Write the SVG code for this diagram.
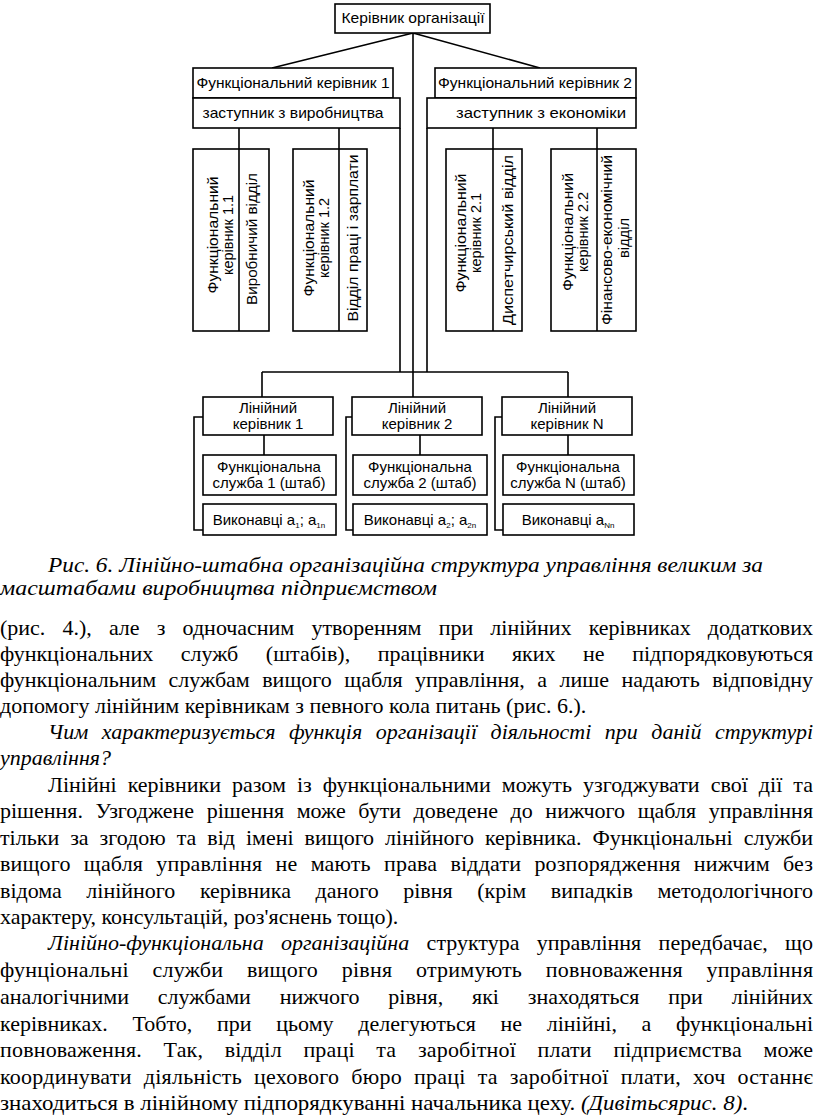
<svg xmlns="http://www.w3.org/2000/svg" width="816" height="1119" viewBox="0 0 816 1119">
<style>
.b{fill:#fff;stroke:#000;stroke-width:1.6}
.c{fill:none;stroke:#000;stroke-width:1.6}
.d{font-family:"Liberation Sans",Arial,sans-serif;font-size:15px;fill:#000;text-anchor:middle}
.s{font-size:8px}
.p{font-family:"Liberation Serif","Times New Roman",serif;font-size:22px;fill:#000}
.i{font-style:italic}
</style>
<rect width="816" height="1119" fill="#fff"/>
<g id="connectors">
<path class="c" d="M413,33 L272,68 M413,33 L540,68 M413,33 V397"/>
<path class="c" d="M400,128 V372 M427,128 V372 M262,372 H568 M262,372 V397 M568,372 V397"/>
<path class="c" d="M239,128 V149 M339,128 V149 M493,128 V149 M597,128 V149"/>
<path class="c" d="M264,435 V455 M420,435 V455 M568,435 V455"/>
<path class="c" d="M203,417 H194 V530 H203 M352,417 H346 V530 H353 M502,417 H495 V530 H503"/>
</g>
<g id="n-top"><rect class="b" x="335" y="4" width="155" height="29"/><text class="d" x="413" y="23" textLength="143" lengthAdjust="spacingAndGlyphs">Керівник організації</text></g>
<g id="n-fk1"><rect class="b" x="193" y="68" width="200" height="30"/><text class="d" x="293" y="88" textLength="193" lengthAdjust="spacingAndGlyphs">Функціональний керівник 1</text></g>
<g id="n-zv"><rect class="b" x="193" y="98" width="207" height="30"/><text class="d" x="293" y="118" textLength="181" lengthAdjust="spacingAndGlyphs">заступник з виробництва</text></g>
<g id="n-fk2"><rect class="b" x="435" y="68" width="201" height="30"/><text class="d" x="535" y="88" textLength="194" lengthAdjust="spacingAndGlyphs">Функціональний керівник 2</text></g>
<g id="n-ze"><rect class="b" x="427" y="98" width="209" height="30"/><text class="d" x="541" y="118" textLength="170" lengthAdjust="spacingAndGlyphs">заступник з економіки</text></g>
<g id="n-11">
<rect class="b" x="193" y="149" width="76" height="182"/><path class="c" d="M239,149 V331"/>
<text class="d" transform="translate(218,235) rotate(-90)" textLength="117" lengthAdjust="spacingAndGlyphs">Функціональний</text>
<text class="d" transform="translate(233,235) rotate(-90)" textLength="80" lengthAdjust="spacingAndGlyphs">керівник 1.1</text>
<text class="d" transform="translate(257,239) rotate(-90)" textLength="132" lengthAdjust="spacingAndGlyphs">Виробничий відділ</text>
</g>
<g id="n-12">
<rect class="b" x="293" y="149" width="74" height="182"/><path class="c" d="M339,149 V331"/>
<text class="d" transform="translate(314,238) rotate(-90)" textLength="117" lengthAdjust="spacingAndGlyphs">Функціональний</text>
<text class="d" transform="translate(329,238) rotate(-90)" textLength="80" lengthAdjust="spacingAndGlyphs">керівник 1.2</text>
<text class="d" transform="translate(358,238) rotate(-90)" textLength="167" lengthAdjust="spacingAndGlyphs">Відділ праці і зарплати</text>
</g>
<g id="n-21">
<rect class="b" x="446" y="149" width="76" height="182"/><path class="c" d="M493,149 V331"/>
<text class="d" transform="translate(466,233) rotate(-90)" textLength="119" lengthAdjust="spacingAndGlyphs">Функціональний</text>
<text class="d" transform="translate(481,233) rotate(-90)" textLength="80" lengthAdjust="spacingAndGlyphs">керівник 2.1</text>
<text class="d" transform="translate(513,240) rotate(-90)" textLength="170" lengthAdjust="spacingAndGlyphs">Диспетчирський відділ</text>
</g>
<g id="n-22">
<rect class="b" x="551" y="149" width="85" height="182"/><path class="c" d="M597,149 V331"/>
<text class="d" transform="translate(573,232) rotate(-90)" textLength="118" lengthAdjust="spacingAndGlyphs">Функціональний</text>
<text class="d" transform="translate(588,232) rotate(-90)" textLength="80" lengthAdjust="spacingAndGlyphs">керівник 2.2</text>
<text class="d" transform="translate(612,240) rotate(-90)" textLength="170" lengthAdjust="spacingAndGlyphs">Фінансово-економічний</text>
<text class="d" transform="translate(629,238) rotate(-90)" textLength="40" lengthAdjust="spacingAndGlyphs">відділ</text>
</g>
<g id="n-l1"><rect class="b" x="203" y="397" width="130" height="38"/><text class="d" x="268" y="413">Лінійний</text><text class="d" x="268" y="429">керівник 1</text></g>
<g id="n-l2"><rect class="b" x="352" y="397" width="130" height="38"/><text class="d" x="417" y="413">Лінійний</text><text class="d" x="417" y="429">керівник 2</text></g>
<g id="n-ln"><rect class="b" x="502" y="397" width="130" height="38"/><text class="d" x="567" y="413">Лінійний</text><text class="d" x="567" y="429">керівник N</text></g>
<g id="n-f1"><rect class="b" x="203" y="455" width="133" height="40"/><text class="d" x="269" y="472">Функціональна</text><text class="d" x="269" y="488">служба 1 (штаб)</text></g>
<g id="n-f2"><rect class="b" x="353" y="455" width="134" height="40"/><text class="d" x="420" y="472">Функціональна</text><text class="d" x="420" y="488">служба 2 (штаб)</text></g>
<g id="n-fn"><rect class="b" x="503" y="455" width="131" height="40"/><text class="d" x="568" y="472">Функціональна</text><text class="d" x="568" y="488">служба N (штаб)</text></g>
<g id="n-v1"><rect class="b" x="203" y="504" width="133" height="31"/><text class="d" x="269" y="525">Виконавці a<tspan class="s" dy="3">1</tspan><tspan dy="-3">; a</tspan><tspan class="s" dy="3">1n</tspan></text></g>
<g id="n-v2"><rect class="b" x="353" y="504" width="134" height="31"/><text class="d" x="420" y="525">Виконавці a<tspan class="s" dy="3">2</tspan><tspan dy="-3">; a</tspan><tspan class="s" dy="3">2n</tspan></text></g>
<g id="n-vn"><rect class="b" x="503" y="504" width="131" height="31"/><text class="d" x="568" y="525">Виконавці a<tspan class="s" dy="3">Nn</tspan></text></g>
<g id="text">
<text class="p i" x="48" y="572" textLength="715" lengthAdjust="spacingAndGlyphs">Рис. 6. Лінійно-штабна організаційна структура управління великим за</text>
<text class="p i" x="0" y="595" textLength="437" lengthAdjust="spacingAndGlyphs">масштабами виробництва підприємством</text>
<text class="p" x="0" y="635" textLength="813" style="word-spacing:11.7px">(рис. 4.), але з одночасним утворенням при лінійних керівниках додаткових</text>
<text class="p" x="0" y="661" textLength="813" style="word-spacing:22.1px">функціональних служб (штабів), працівники яких не підпорядковуються</text>
<text class="p" x="0" y="687" textLength="813" style="word-spacing:7px">функціональним службам вищого щабля управління, а лише надають відповідну</text>
<text class="p" x="0" y="713">допомогу лінійним керівникам з певного кола питань (рис. 6.).</text>
<text class="p i" x="48" y="739" textLength="765" style="word-spacing:8px">Чим характеризується функція організації діяльності при даній структурі</text>
<text class="p i" x="0" y="765">управління?</text>
<text class="p" x="48" y="792" textLength="765" style="word-spacing:5.6px">Лінійні керівники разом із функціональними можуть узгоджувати свої дії та</text>
<text class="p" x="0" y="818" textLength="813" style="word-spacing:7.1px">рішення. Узгоджене рішення може бути доведене до нижчого щабля управління</text>
<text class="p" x="0" y="845" textLength="813" style="word-spacing:5.5px">тільки за згодою та від імені вищого лінійного керівника. Функціональні служби</text>
<text class="p" x="0" y="871" textLength="813" style="word-spacing:7.6px">вищого щабля управління не мають права віддати розпорядження нижчим без</text>
<text class="p" x="0" y="898" textLength="813" style="word-spacing:19.1px">відома лінійного керівника даного рівня (крім випадків методологічного</text>
<text class="p" x="0" y="924">характеру, консультацій, роз'яснень тощо).</text>
<text class="p" x="48" y="950" textLength="765" style="word-spacing:11.9px"><tspan class="i">Лінійно-функціональна організаційна</tspan> структура управління передбачає, що</text>
<text class="p" x="0" y="977" textLength="813" style="word-spacing:18px">фунціональні служби вищого рівня отримують повноваження управління</text>
<text class="p" x="0" y="1004" textLength="813" style="word-spacing:23.3px">аналогічними службами нижчого рівня, які знаходяться при лінійних</text>
<text class="p" x="0" y="1031" textLength="813" style="word-spacing:19.1px">керівниках. Тобто, при цьому делегуються не лінійні, а функціональні</text>
<text class="p" x="0" y="1057" textLength="813" style="word-spacing:15.9px">повноваження. Так, відділ праці та заробітної плати підприємства може</text>
<text class="p" x="0" y="1084" textLength="813" style="word-spacing:6.3px">координувати діяльність цехового бюро праці та заробітної плати, хоч останнє</text>
<text class="p" x="0" y="1110" textLength="748" lengthAdjust="spacingAndGlyphs">знаходиться в лінійному підпорядкуванні начальника цеху. <tspan class="i">(Дивітьсярис. 8)</tspan>.</text>
</g>
</svg>
